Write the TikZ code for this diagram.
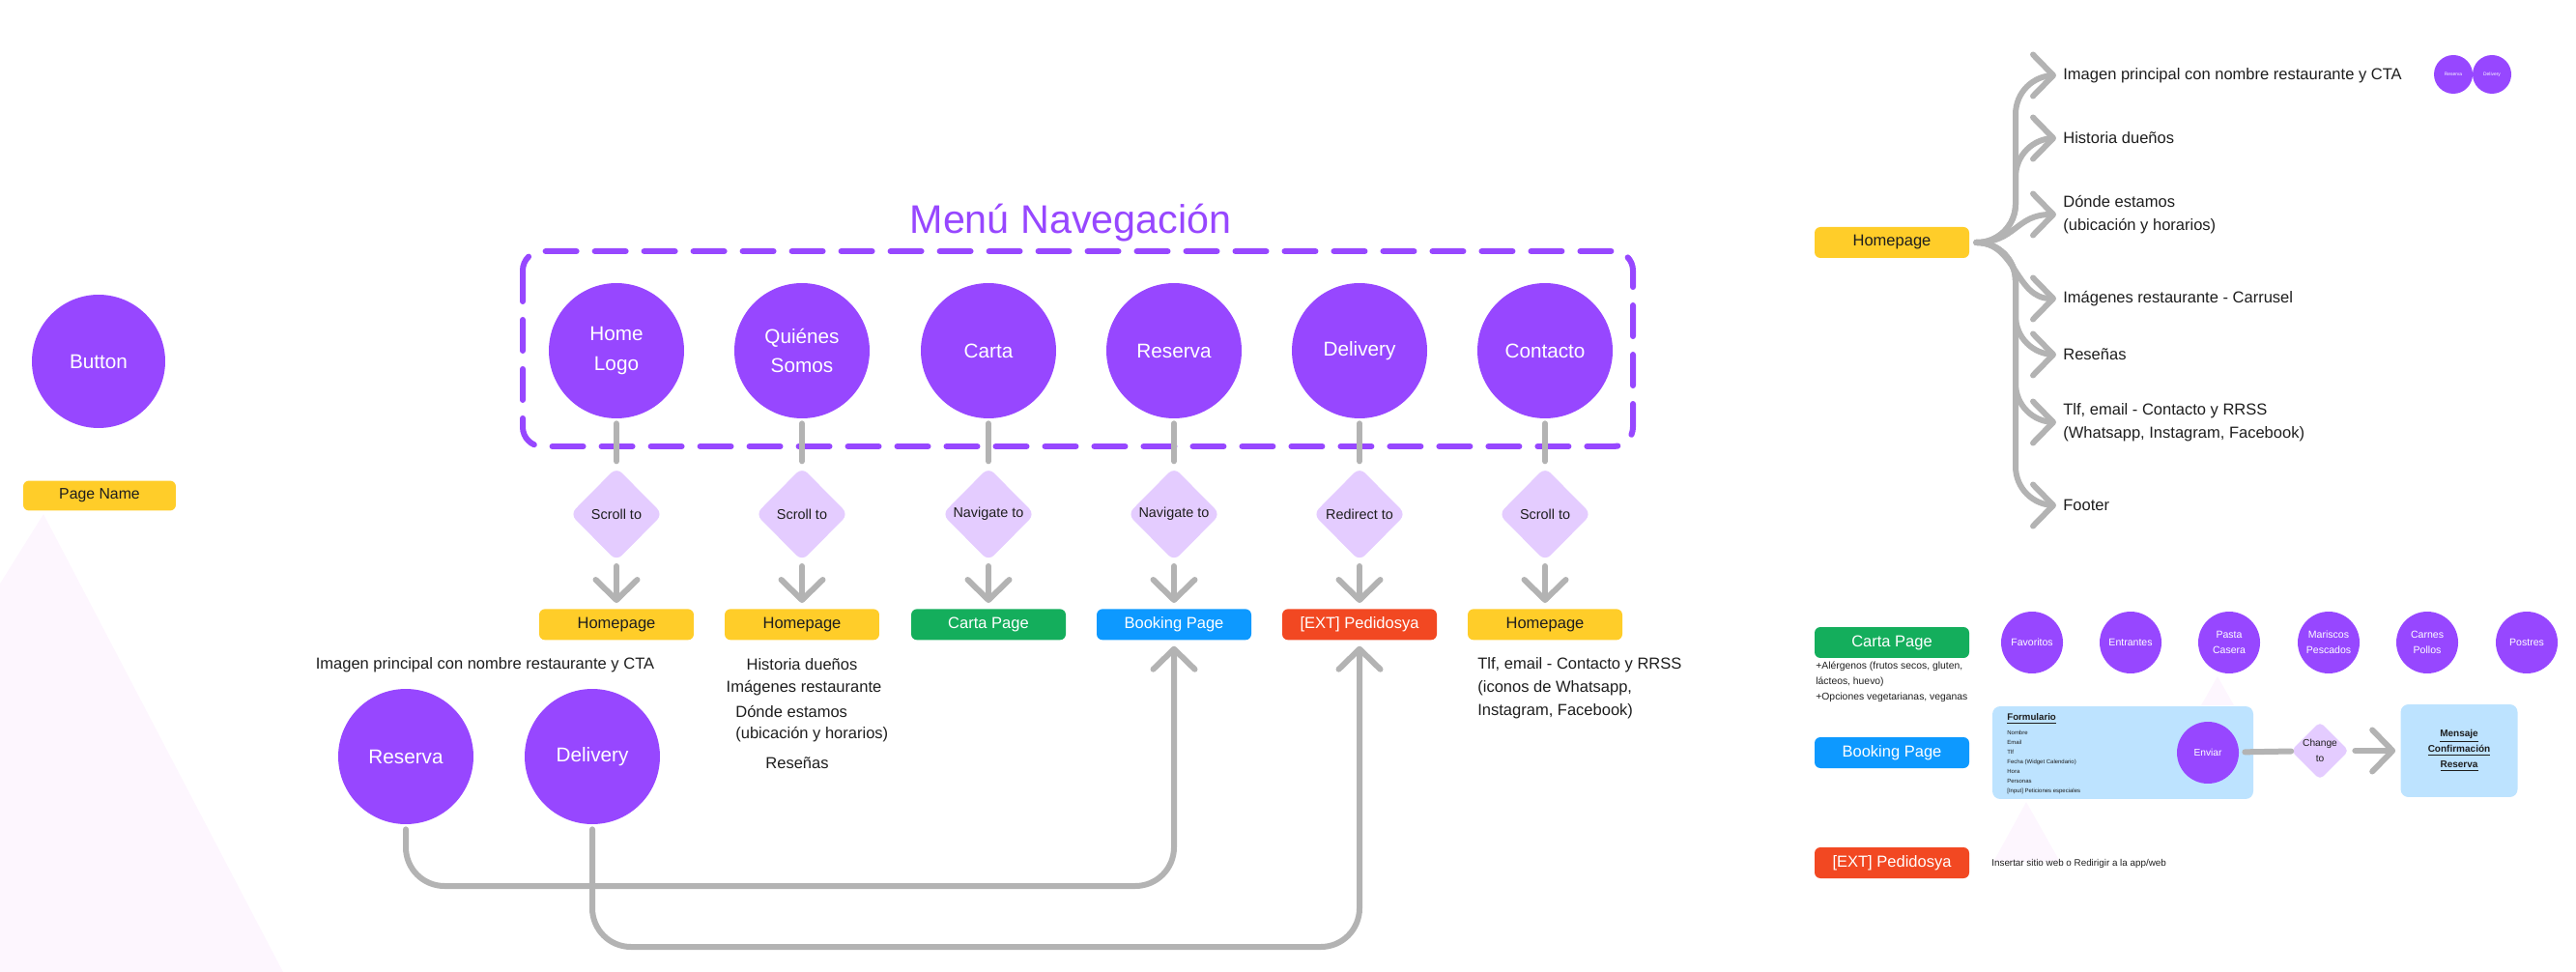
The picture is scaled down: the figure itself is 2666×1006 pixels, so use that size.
\documentclass[tikz,border=0pt]{standalone}
\usepackage{fontspec}
\setmainfont{Liberation Sans}
\usetikzlibrary{arrows.meta,positioning,shapes.geometric}
\definecolor{navpurple}{HTML}{9747FF}
\definecolor{actlilac}{HTML}{E4CCFF}
\definecolor{flowgray}{HTML}{B3B3B3}
\definecolor{pageyellow}{HTML}{FFCD29}
\definecolor{pagegreen}{HTML}{14AE5C}
\definecolor{pageblue}{HTML}{0D99FF}
\definecolor{pagered}{HTML}{F24822}
\definecolor{panelblue}{HTML}{BDE3FF}
\definecolor{inktext}{HTML}{1E1E1E}
\definecolor{ghostpink}{HTML}{FDF6FE}

\begin{document}
\begin{tikzpicture}[
  x=0.02cm, y=-0.02cm,
  every node/.style={font=\fontsize{9.4}{13.6}\selectfont, text=inktext},
  note/.style={inner sep=0pt},
  navbtn/.style={circle, fill=navpurple, text=white, minimum size=2.8cm,
    inner sep=0pt, align=center, font=\fontsize{11.8}{17.6}\selectfont},
  catbtn/.style={circle, fill=navpurple, text=white, minimum size=1.28cm,
    inner sep=0pt, align=center, font=\fontsize{6}{9}\selectfont},
  minibtn/.style={circle, fill=navpurple, text=white, minimum size=0.8cm,
    inner sep=0pt, font=\fontsize{2.8}{3}\selectfont},
  actdiamond/.style={diamond, fill=actlilac, rounded corners=0.16cm,
    minimum width=1.92cm, minimum height=1.94cm, inner sep=0pt,
    align=center, font=\fontsize{8.2}{10}\selectfont},
  pagebox/.style={rectangle, rounded corners=0.12cm, minimum width=3.2cm,
    minimum height=0.64cm, inner sep=0pt, font=\fontsize{9.4}{11}\selectfont},
  homebox/.style={pagebox, fill=pageyellow},
  cartabox/.style={pagebox, fill=pagegreen, text=white},
  bookbox/.style={pagebox, fill=pageblue, text=white},
  extbox/.style={pagebox, fill=pagered, text=white},
  panel/.style={rectangle, fill=panelblue, rounded corners=0.16cm, inner sep=0pt},
  flowline/.style={draw=flowgray, line width=0.12cm, line cap=round},
  flowarrow/.style={flowline, -{Straight Barb[length=0.42cm, width=0.86cm, round]}},
  branch/.style={flowarrow, rounded corners=0.8cm, shorten <=0.14cm, shorten >=0.14cm}
]
\useasboundingbox (0,0) rectangle (2666,1006);

% Sombras suaves
\fill[ghostpink] (45,532) -- (293,1006) -- (0,1006) -- (0,604) -- cycle;
\fill[ghostpink] (2295,700) -- (2312,730) -- (2278,730) -- cycle;
\fill[ghostpink] (2097,830) -- (2132,892) -- (2063,892) -- cycle;

% Leyenda
\node[navbtn, minimum size=2.76cm] (legendBtn) at (102,374) {Button};
\node[homebox, minimum width=3.16cm, minimum height=0.62cm,
  font=\fontsize{9}{11}\selectfont] (legendPage) at (103,513) {Page Name};

% Menú de navegación
\node[text=navpurple, font=\fontsize{23.5}{28}\selectfont] (titulo) at (1108,231) {Menú Navegación};
\draw[navpurple, line width=0.12cm, line cap=round,
  dash pattern=on 0.64cm off 0.38cm, rounded corners=0.4cm]
  (541,260) rectangle (1690,462);

\node[navbtn] (home) at (638,363) {Home\\Logo};
\node[navbtn] (quienes) at (830,363) {Quiénes\\Somos};
\node[navbtn] (carta) at (1023,363) {Carta};
\node[navbtn] (reserva) at (1215,363) {Reserva};
\node[navbtn] (delivery) at (1407,363) {Delivery};
\node[navbtn] (contacto) at (1599,363) {Contacto};

% Acciones
\node[actdiamond, below=1.0cm of home] (accHome) {Scroll to};
\node[actdiamond, below=1.0cm of quienes] (accQuienes) {Scroll to};
\node[actdiamond, below=1.0cm of carta] (accCarta) {Navigate to};
\node[actdiamond, below=1.0cm of reserva] (accReserva) {Navigate to};
\node[actdiamond, below=1.0cm of delivery] (accDelivery) {Redirect to};
\node[actdiamond, below=1.0cm of contacto] (accContacto) {Scroll to};

% Páginas destino
\node[homebox, below=0.98cm of accHome] (pgHome) {Homepage};
\node[homebox, below=0.98cm of accQuienes] (pgQuienes) {Homepage};
\node[cartabox, below=0.98cm of accCarta] (pgCarta) {Carta Page};
\node[bookbox, below=0.98cm of accReserva] (pgBook) {Booking Page};
\node[extbox, below=0.98cm of accDelivery] (pgExt) {[EXT] Pedidosya};
\node[homebox, below=0.98cm of accContacto] (pgContacto) {Homepage};

% Flechas del menú
\draw[flowline, shorten <=0.1cm, shorten >=0.12cm] (home) -- (accHome);
\draw[flowline, shorten <=0.1cm, shorten >=0.12cm] (quienes) -- (accQuienes);
\draw[flowline, shorten <=0.1cm, shorten >=0.12cm] (carta) -- (accCarta);
\draw[flowline, shorten <=0.1cm, shorten >=0.12cm] (reserva) -- (accReserva);
\draw[flowline, shorten <=0.1cm, shorten >=0.12cm] (delivery) -- (accDelivery);
\draw[flowline, shorten <=0.1cm, shorten >=0.12cm] (contacto) -- (accContacto);
\draw[flowarrow, shorten <=0.1cm, shorten >=0.12cm] (accHome) -- (pgHome);
\draw[flowarrow, shorten <=0.1cm, shorten >=0.12cm] (accQuienes) -- (pgQuienes);
\draw[flowarrow, shorten <=0.1cm, shorten >=0.12cm] (accCarta) -- (pgCarta);
\draw[flowarrow, shorten <=0.1cm, shorten >=0.12cm] (accReserva) -- (pgBook);
\draw[flowarrow, shorten <=0.1cm, shorten >=0.12cm] (accDelivery) -- (pgExt);
\draw[flowarrow, shorten <=0.1cm, shorten >=0.12cm] (accContacto) -- (pgContacto);

% Contenido de las secciones
\node (txtHero) at (502,688) {Imagen principal con nombre restaurante y CTA};
\node[navbtn] (ctaReserva) at (420,783) {Reserva};
\node[navbtn] (ctaDelivery) at (613,783) {Delivery};
\node (txtHistoria) at (830,688) {Historia dueños};
\node (txtImagenes) at (832,712) {Imágenes restaurante};
\node[note, anchor=west] (txtDonde) at (761,736) {Dónde estamos};
\node[note, anchor=west] (txtUbicacion) at (761,760) {(ubicación y horarios)};
\node (txtResenas) at (825,790) {Reseñas};
\node[note, anchor=west, align=left] (txtContacto) at (1529,712)
  {Tlf, email - Contacto y RRSS\\(iconos de Whatsapp,\\Instagram, Facebook)};

% Botones CTA hacia sus páginas
\coordinate (loopReserva) at (0,917);
\coordinate (loopDelivery) at (0,980);
\draw[flowarrow, rounded corners=0.8cm, shorten <=0.1cm, shorten >=0.12cm]
  (ctaReserva.south) -- (ctaReserva.south |- loopReserva)
  -- (pgBook.south |- loopReserva) -- (pgBook.south);
\draw[flowarrow, rounded corners=0.8cm, shorten <=0.1cm, shorten >=0.12cm]
  (ctaDelivery.south) -- (ctaDelivery.south |- loopDelivery)
  -- (pgExt.south |- loopDelivery) -- (pgExt.south);

% Mapa de la Homepage
\node[homebox] (hpMap) at (1958,251) {Homepage};
\node[note, anchor=west] (secHero) at (2135,78) {Imagen principal con nombre restaurante y CTA};
\node[note, anchor=west] (secHistoria) at (2135,143) {Historia dueños};
\node[note, anchor=west, align=left] (secDonde) at (2135,222) {Dónde estamos\\(ubicación y horarios)};
\node[note, anchor=west] (secCarrusel) at (2135,309) {Imágenes restaurante - Carrusel};
\node[note, anchor=west] (secResenas) at (2135,367) {Reseñas};
\node[note, anchor=west, align=left] (secContacto) at (2135,437)
  {Tlf, email - Contacto y RRSS\\(Whatsapp, Instagram, Facebook)};
\node[note, anchor=west] (secFooter) at (2135,523) {Footer};
\node[minibtn] (miniReserva) at (2539,77) {Reserva};
\node[minibtn] (miniDelivery) at (2579,77) {Delivery};

\draw[branch] (hpMap.east) -| ([xshift=-0.98cm]secHero.west) -- (secHero.west);
\draw[branch] (hpMap.east) -| ([xshift=-0.98cm]secHistoria.west) -- (secHistoria.west);
\draw[branch] (hpMap.east) .. controls +(48,0) and +(-49,0) .. (secDonde.west);
\draw[branch] (hpMap.east) .. controls +(48,0) and +(-49,0) .. (secCarrusel.west);
\draw[branch] (hpMap.east) -| ([xshift=-0.98cm]secResenas.west) -- (secResenas.west);
\draw[branch] (hpMap.east) -| ([xshift=-0.98cm]secContacto.west) -- (secContacto.west);
\draw[branch] (hpMap.east) -| ([xshift=-0.98cm]secFooter.west) -- (secFooter.west);

% Carta Page
\node[cartabox] (cpMap) at (1958,665) {Carta Page};
\node[note, anchor=west, align=left, font=\fontsize{5.9}{9.1}\selectfont] (cpNotas) at (1879,706)
  {+Alérgenos (frutos secos, gluten,\\lácteos, huevo)\\+Opciones vegetarianas, veganas};
\node[catbtn] (catFavoritos) at (2103,665) {Favoritos};
\node[catbtn] (catEntrantes) at (2205,665) {Entrantes};
\node[catbtn] (catPasta) at (2307,665) {Pasta\\Casera};
\node[catbtn] (catMariscos) at (2410,665) {Mariscos\\Pescados};
\node[catbtn] (catCarnes) at (2512,665) {Carnes\\Pollos};
\node[catbtn] (catPostres) at (2615,665) {Postres};

% Booking Page
\node[bookbox] (bpMap) at (1958,779) {Booking Page};
\node[panel, minimum width=5.4cm, minimum height=1.92cm] (formPanel) at (2197,779) {};
\node[note, anchor=west, font=\bfseries\fontsize{5.5}{6}\selectfont] (formTitulo) at (2077,744) {\underline{Formulario}};
\node[note, anchor=west, align=left, font=\fontsize{3.4}{5.7}\selectfont] (formCampos) at (2077,789)
  {Nombre\\Email\\Tlf\\Fecha (Widget Calendario)\\Hora\\Personas\\{}[Input] Peticiones especiales};
\node[catbtn, font=\fontsize{5.8}{7}\selectfont] (enviar) at (2285,779) {Enviar};
\node[actdiamond, minimum width=1.2cm, minimum height=1.2cm, rounded corners=0.1cm,
  font=\fontsize{5.8}{9.1}\selectfont] (cambio) at (2401,777) {Change\\to};
\node[panel, minimum width=2.42cm, minimum height=1.92cm, align=center,
  font=\bfseries\fontsize{5.7}{9.1}\selectfont] (confirmacion) at (2545,777)
  {\underline{Mensaje}\\\underline{Confirmación}\\\underline{Reserva}};
\draw[flowline, shorten <=0.12cm] (enviar) -- (cambio);
\draw[flowarrow, shorten <=0.12cm, shorten >=0.1cm] (cambio) -- (confirmacion);

% Pedidosya
\node[extbox] (epMap) at (1958,893) {[EXT] Pedidosya};
\node[note, anchor=west, font=\fontsize{5.6}{7}\selectfont] (epNota) at (2061,894)
  {Insertar sitio web o Redirigir a la app/web};

\end{tikzpicture}
\end{document}
